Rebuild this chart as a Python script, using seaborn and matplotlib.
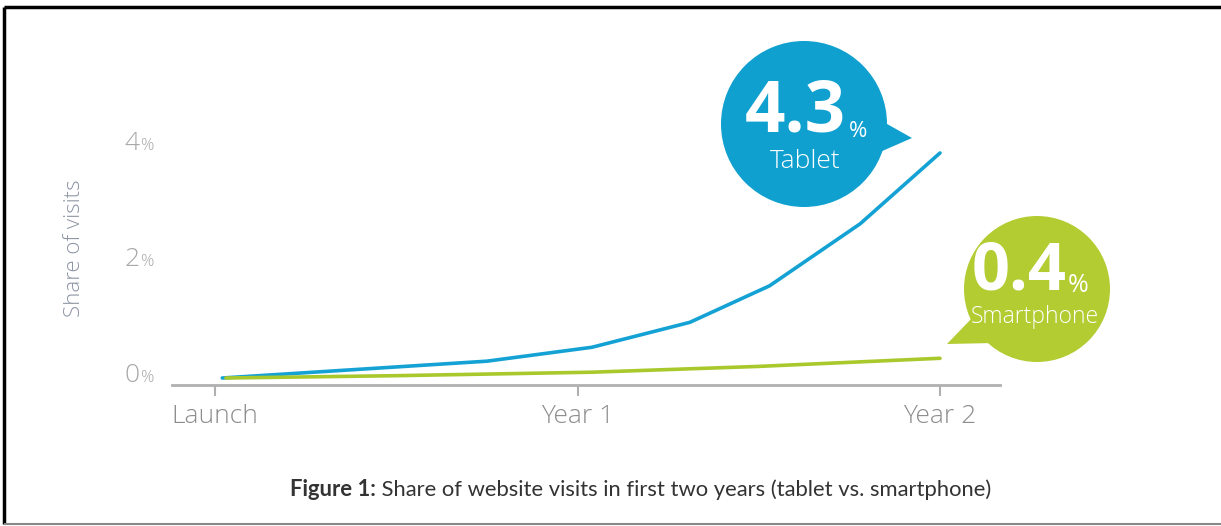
import matplotlib
matplotlib.use("Agg")
import matplotlib.pyplot as plt
import seaborn as sns
import pandas as pd
from matplotlib.patches import Circle, Polygon

# ---- data ----
tablet_x = [0.02, 0.75, 1.04, 1.31, 1.53, 1.78, 2.0]
tablet_y = [0.0, 0.29, 0.53, 0.96, 1.59, 2.66, 3.88]
phone_x = [0.03, 0.5, 1.04, 1.5, 2.0]
phone_y = [0.0, 0.04, 0.1, 0.2, 0.34]
x_ticks = [0, 1, 2]
x_labels = ["Launch", "Year 1", "Year 2"]
y_ticks = [0, 2, 4]
y_labels = ["0", "2", "4"]
callout_values = ["4.3", "0.4"]
callout_names = ["Tablet", "Smartphone"]
caption_bold = "Figure 1:"
caption_rest = " Share of website visits in first two years (tablet vs. smartphone)"

BLUE = "#0fa0d0"
GREEN = "#b3cc32"
LINE_BLUE = "#14a2d4"
LINE_GREEN = "#a9c82c"

sns.set_style("white")
plt.rcParams["font.family"] = ["Open Sans", "DejaVu Sans"]

W, H = 1221, 526
fig = plt.figure(figsize=(W / 100, H / 100), dpi=100)

df = pd.concat([
    pd.DataFrame({"x": tablet_x, "y": tablet_y, "device": "Tablet"}),
    pd.DataFrame({"x": phone_x, "y": phone_y, "device": "Smartphone"}),
])

ax = fig.add_axes([172 / W, (H - 385) / H, (1000 - 172) / W, (385 - 88) / H])
sns.lineplot(data=df, x="x", y="y", hue="device",
             palette={"Tablet": LINE_BLUE, "Smartphone": LINE_GREEN},
             linewidth=2.6, legend=False, ax=ax)
ax.set_xlim(-43 / 362.5, (1000 - 215) / 362.5)
ax.set_ylim(-7 / 58, (378 - 88) / 58)
for s in ["top", "right", "left"]:
    ax.spines[s].set_visible(False)
ax.spines["bottom"].set_color("#b0b0b0")
ax.spines["bottom"].set_linewidth(2)
ax.set_xticks(x_ticks)
ax.set_xticklabels(x_labels, fontsize=19, color="#8c8c8c", fontweight="light")
ax.tick_params(axis="x", length=8, width=1.5, color="#b0b0b0", direction="out", pad=6, bottom=True)
ax.set_yticks([])
ax.set_xlabel("")
ax.set_ylabel("")

for t, lab in zip(y_ticks, y_labels):
    ax.annotate(lab, xy=(0, t), xycoords=("axes fraction", "data"),
                xytext=(-48, 2), textcoords="offset pixels",
                ha="left", va="center", fontsize=19, color="#a8a8a8", fontweight="light")
    ax.annotate("%", xy=(0, t), xycoords=("axes fraction", "data"),
                xytext=(-32, 0), textcoords="offset pixels",
                ha="left", va="center", fontsize=12, color="#a8a8a8", fontweight="light")

fig.text(75 / W, 1 - 248 / H, "Share of visits", rotation=90, ha="center", va="center",
         fontsize=16, color="#8d95a3", fontweight="light")

ov = fig.add_axes([0, 0, 1, 1], zorder=5)
ov.set_xlim(0, W)
ov.set_ylim(H, 0)
ov.axis("off")
ov.patch.set_alpha(0)

# blue callout
ov.add_patch(Polygon([(880, 120), (912, 138), (880, 152)], closed=True, color=BLUE, lw=0))
ov.add_patch(Circle((804, 124), 83, color=BLUE, lw=0))
ov.text(846, 132, callout_values[0], ha="right", va="baseline", fontsize=51, fontweight="bold", color="white")
ov.text(849, 137, "%", ha="left", va="baseline", fontsize=16, color="white")
ov.text(805, 162, callout_names[0], ha="center", va="center", fontsize=19, color="white", fontweight="light")

# green callout
ov.add_patch(Polygon([(972, 318), (947, 344), (994, 343)], closed=True, color=GREEN, lw=0))
ov.add_patch(Circle((1037, 289), 73, color=GREEN, lw=0))
ov.text(1066, 290, callout_values[1], ha="right", va="baseline", fontsize=48, fontweight="bold", color="white")
ov.text(1068, 292, "%", ha="left", va="baseline", fontsize=18, color="white")
ov.text(1035, 317, callout_names[1], ha="center", va="center", fontsize=16.5, color="white", fontweight="light")

# caption
cap_fs = 15.8
t1 = ov.text(0, 490, caption_bold, ha="left", va="center", fontsize=cap_fs, fontweight="bold",
             color="#333333", family=["Lato", "DejaVu Sans"])
t2 = ov.text(0, 490, caption_rest, ha="left", va="center", fontsize=cap_fs,
             color="#333333", family=["Lato", "DejaVu Sans"])
fig.canvas.draw()
w1 = t1.get_window_extent().width
w2 = t2.get_window_extent().width
start = 641 - (w1 + w2) / 2
t1.set_x(start)
t2.set_x(start + w1)

# frame
ov.plot([4, 4], [7, 524], color="black", lw=2.5, solid_capstyle="butt")
ov.plot([4, 1225], [7, 7], color="black", lw=2.5, solid_capstyle="butt")
ov.plot([4, 1225], [524, 524], color="#888888", lw=1.5, solid_capstyle="butt")

fig.savefig("out.png", dpi=100)
